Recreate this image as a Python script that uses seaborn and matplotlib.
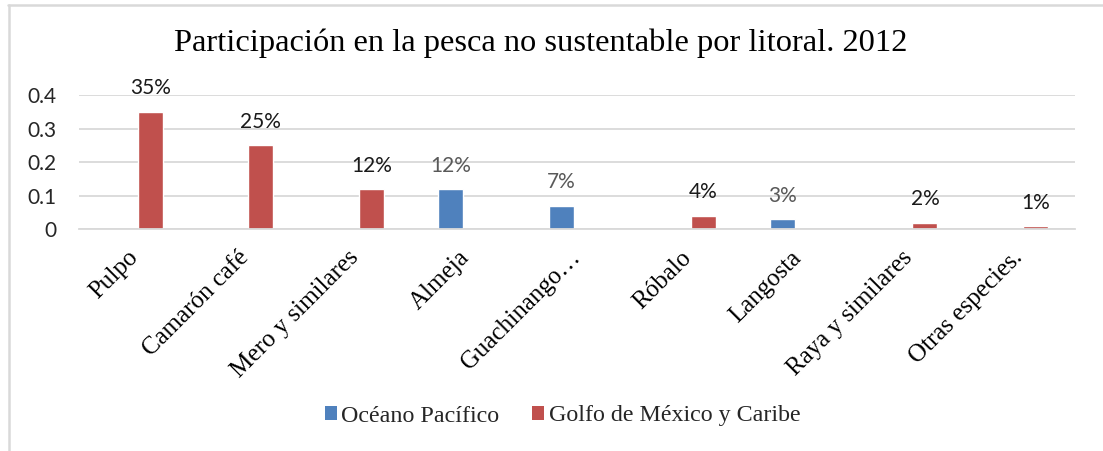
import numpy as np
import pandas as pd
import matplotlib
matplotlib.use("Agg")
import matplotlib.pyplot as plt
from matplotlib.patches import Patch
from matplotlib.lines import Line2D
import seaborn as sns

# Species (x categories) and share of unsustainable catch per coast
species = ["Pulpo", "Camarón café", "Mero y similares", "Almeja", "Guachinango…",
           "Róbalo", "Langosta", "Raya y similares", "Otras especies."]
pacifico = [np.nan, np.nan, np.nan, 0.12, 0.07, np.nan, 0.03, np.nan, np.nan]
golfo = [0.35, 0.25, 0.12, np.nan, np.nan, 0.04, np.nan, 0.02, 0.01]
series_names = ["Océano Pacífico", "Golfo de México y Caribe"]
y_ticks = [0, 0.1, 0.2, 0.3, 0.4]
y_tick_labels = ["0", "0.1", "0.2", "0.3", "0.4"]
title = "Participación en la pesca no sustentable por litoral. 2012"

BLUE = "#4F81BD"
RED = "#C0504D"
GRID = "#D9D9D9"
SERIF = "Liberation Serif"
SANS = "Lato"

df = pd.DataFrame({
    "especie": species * 2,
    "litoral": [series_names[0]] * len(species) + [series_names[1]] * len(species),
    "valor": pacifico + golfo,
}).dropna()

sns.set_theme(style="white")
fig = plt.figure(figsize=(11.03, 4.51), dpi=100)
ax = fig.add_axes([0.0716, 0.4916, 0.903, 0.2978])

sns.barplot(data=df, x="especie", y="valor", hue="litoral", order=species,
            hue_order=series_names, palette=[BLUE, RED], width=0.576, gap=0.215,
            dodge=True, errorbar=None, legend=False, ax=ax, saturation=1)

ax.set_xlim(-0.5, len(species) - 0.5)
ax.set_ylim(0, 0.4)
ax.set_yticks(y_ticks)
ax.set_yticklabels(y_tick_labels, fontfamily=SANS, fontsize=15, color="#262626")
ax.tick_params(axis="y", length=0, pad=16)
ax.set_xlabel("")
ax.set_ylabel("")
ax.yaxis.grid(True, color=GRID, linewidth=1.3)
ax.set_axisbelow(True)
for side in ["left", "right", "top"]:
    ax.spines[side].set_visible(False)
ax.spines["bottom"].set_color(GRID)
ax.spines["bottom"].set_linewidth(1.3)

# Rotated category labels
ax.set_xticks(range(len(species)))
ax.set_xticklabels(species, rotation=45, ha="right", va="center",
                   rotation_mode="anchor", fontfamily=SERIF, fontsize=18, color="black")
ax.tick_params(axis="x", length=0, pad=18)

# Percentage labels above every bar
label_colors = ["#595959", "#1A1A1A"]
for container, col in zip(ax.containers, label_colors):
    for bar in container:
        h = bar.get_height()
        if np.isnan(h):
            continue
        ax.annotate(f"{h:.0%}", (bar.get_x() + bar.get_width() / 2, h),
                    xytext=(0, 12.5), textcoords="offset points", ha="center",
                    va="baseline", fontfamily=SANS, fontsize=15, color=col,
                    annotation_clip=False)

fig.text(0.49, 1 - 43 / 451, title, ha="center", va="center",
         fontfamily=SERIF, fontsize=23.4, color="black")

handles = [Patch(facecolor=BLUE, edgecolor="none"), Patch(facecolor=RED, edgecolor="none")]
fig.legend(handles, series_names, loc="center", bbox_to_anchor=(0.51, 1 - 416 / 451),
           ncol=2, frameon=False, prop={"family": SERIF, "size": 17.3},
           handlelength=0.5, handleheight=0.5, handletextpad=0.2, columnspacing=1.35)

# Light frame on the top and left edges of the chart area
fig.add_artist(Line2D([8 / 1103, 1], [1 - 5 / 451] * 2, color=GRID, lw=1.8,
                      transform=fig.transFigure))
fig.add_artist(Line2D([9 / 1103] * 2, [0, 1 - 5 / 451], color=GRID, lw=1.8,
                      transform=fig.transFigure))

fig.savefig("out.png", dpi=100, facecolor="white")
